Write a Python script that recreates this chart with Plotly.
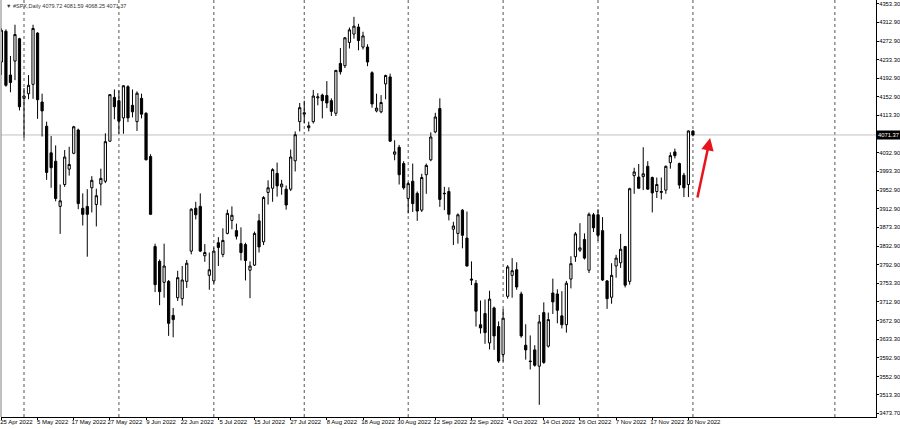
import pandas as pd
import plotly.graph_objects as go

# ---- calendar (US trading days, 25 Apr 2022 .. 1 Dec 2022) ----
holidays = ["2022-05-30", "2022-06-20", "2022-07-04", "2022-09-05", "2022-11-24"]
dates = [d.strftime("%Y-%m-%d") for d in pd.bdate_range("2022-04-25", "2022-12-01")
         if d.strftime("%Y-%m-%d") not in holidays]

# ---- OHLC ----
opens = [4228, 4294, 4200, 4230, 4278, 4150, 4160, 4180, 4290, 4142,
         4090, 4033, 4015, 3918, 3965, 3998, 4032, 4082, 3914, 3918,
         3958, 3922, 3966, 3972, 4058, 4152, 4145, 4108, 4175, 4135,
         4100, 4150, 4118, 4025, 3832, 3800, 3755, 3757, 3684, 3722,
         3720, 3757, 3822, 3914, 3918, 3812, 3770, 3758, 3840, 3815,
         3860, 3888, 3866, 3838, 3836, 3781, 3792, 3887, 3842, 3948,
         3957, 3989, 3960, 3955, 3955, 4016, 4100, 4116, 4087, 4100,
         4151, 4157, 4156, 4145, 4118, 4225, 4220, 4270, 4288, 4303,
         4260, 4260, 4205, 4123, 4121, 4181, 4196, 4030, 4045, 4010,
         3935, 3972, 3946, 3910, 3986, 4018, 4078, 4128, 3945, 3950,
         3869, 3860, 3910, 3850, 3762, 3753, 3664, 3688, 3625, 3700,
         3660, 3600, 3725, 3770, 3782, 3730, 3620, 3586, 3610, 3575,
         3690, 3618, 3732, 3730, 3683, 3664, 3762, 3810, 3824, 3847,
         3781, 3900, 3900, 3866, 3758, 3723, 3790, 3797, 3832, 3757,
         3984, 3981, 3982, 4004, 3980, 3950, 3948, 3953, 4012, 4035,
         4010, 3985, 3965, 4079.72]
highs = [4300, 4298, 4241, 4308, 4280, 4172, 4200, 4308, 4292, 4160,
         4100, 4069, 4049, 3965, 4039, 4046, 4091, 4085, 3946, 3955,
         3983, 3956, 3999, 4075, 4159, 4169, 4167, 4178, 4178, 4169,
         4165, 4160, 4120, 4030, 3838, 3804, 3838, 3760, 3700, 3780,
         3790, 3803, 3914, 3928, 3946, 3837, 3819, 3830, 3852, 3871,
         3911, 3918, 3881, 3873, 3840, 3800, 3864, 3902, 3940, 3974,
         4000, 4012, 3975, 3963, 4040, 4079, 4140, 4145, 4100, 4168,
         4161, 4160, 4187, 4150, 4211, 4258, 4281, 4302, 4325, 4310,
         4293, 4266, 4208, 4160, 4157, 4201, 4203, 4060, 4050, 4015,
         3970, 4010, 3950, 3988, 4010, 4077, 4119, 4150, 3960, 3959,
         3885, 3903, 3912, 3907, 3800, 3760, 3716, 3718, 3737, 3703,
         3671, 3698, 3792, 3807, 3798, 3735, 3665, 3641, 3620, 3685,
         3712, 3690, 3763, 3740, 3736, 3758, 3811, 3863, 3882, 3860,
         3905, 3904, 3912, 3895, 3760, 3796, 3814, 3859, 3833, 3958,
         4001, 4009, 4045, 4015, 3982, 3980, 3980, 4006, 4034, 4042,
         4012, 3990, 4081, 4081.59]
lows = [4200, 4175, 4163, 4189, 4124, 4065, 4148, 4149, 4106, 4068,
        3975, 3958, 3929, 3859, 3960, 3984, 4030, 3912, 3877, 3810,
        3905, 3875, 3920, 3968, 4057, 4105, 4074, 4074, 4099, 4109,
        4080, 4107, 4017, 3900, 3734, 3706, 3722, 3640, 3637, 3715,
        3705, 3743, 3815, 3890, 3820, 3799, 3739, 3752, 3790, 3809,
        3858, 3869, 3847, 3802, 3759, 3721, 3790, 3819, 3835, 3922,
        3928, 3939, 3943, 3911, 3951, 3993, 4079, 4096, 4079, 4096,
        4135, 4107, 4129, 4112, 4112, 4201, 4215, 4257, 4278, 4253,
        4255, 4219, 4130, 4120, 4118, 4148, 4057, 4017, 3965, 3954,
        3903, 3906, 3887, 3906, 3945, 4015, 4075, 3917, 3910, 3888,
        3835, 3838, 3828, 3789, 3749, 3660, 3645, 3623, 3611, 3610,
        3582, 3585, 3720, 3722, 3739, 3636, 3589, 3568, 3574, 3492,
        3580, 3615, 3687, 3667, 3656, 3647, 3742, 3799, 3820, 3804,
        3775, 3863, 3844, 3758, 3698, 3709, 3765, 3786, 3744, 3750,
        3945, 3956, 3953, 3954, 3905, 3936, 3933, 3945, 3999, 4021,
        3956, 3938, 3938, 4068.25]
closes = [4296, 4178, 4184, 4287, 4132, 4155, 4178, 4300, 4147, 4123,
          3991, 4001, 3935, 3930, 4024, 4008, 4089, 3924, 3901, 3901,
          3974, 3941, 3978, 4057, 4158, 4132, 4101, 4177, 4108, 4121,
          4161, 4116, 4018, 3901, 3750, 3735, 3790, 3667, 3675, 3765,
          3760, 3796, 3912, 3900, 3822, 3819, 3782, 3822, 3830, 3845,
          3903, 3899, 3854, 3819, 3802, 3790, 3860, 3831, 3937, 3958,
          3997, 3962, 3966, 3921, 4024, 4072, 4130, 4119, 4091, 4155,
          4153, 4145, 4140, 4122, 4210, 4207, 4280, 4297, 4305, 4274,
          4284, 4228, 4138, 4129, 4141, 4199, 4058, 4035, 3986, 3958,
          3967, 3924, 3908, 3980, 4006, 4067, 4110, 3933, 3946, 3901,
          3876, 3900, 3856, 3790, 3760, 3693, 3657, 3647, 3719, 3640,
          3586, 3678, 3788, 3780, 3745, 3640, 3610, 3585, 3577, 3670,
          3583, 3675, 3713, 3695, 3664, 3753, 3795, 3859, 3829, 3807,
          3901, 3872, 3856, 3760, 3720, 3770, 3807, 3826, 3749, 3956,
          3992, 3957, 3988, 3955, 3947, 3965, 3950, 4004, 4027, 4027,
          3964, 3958, 4080, 4071.37]

# ---- axis labels ----
date_tick_labels = ["25 Apr 2022", "5 May 2022", "17 May 2022", "27 May 2022", "9 Jun 2022",
                    "22 Jun 2022", "5 Jul 2022", "15 Jul 2022", "27 Jul 2022", "8 Aug 2022",
                    "18 Aug 2022", "30 Aug 2022", "12 Sep 2022", "22 Sep 2022", "4 Oct 2022",
                    "14 Oct 2022", "26 Oct 2022", "7 Nov 2022", "17 Nov 2022", "30 Nov 2022"]
price_ticks = [4353.30, 4312.90, 4272.90, 4233.30, 4192.90, 4152.90, 4113.30,
               4032.90, 3993.30, 3952.90, 3912.90, 3873.30, 3832.90, 3792.90, 3753.30,
               3712.90, 3672.90, 3633.30, 3592.90, 3552.90, 3513.30, 3473.70]
symbol = "#SPX,Daily"
last_price = closes[-1]

FONT = "Liberation Sans"

fig = go.Figure()
fig.add_trace(go.Candlestick(
    x=dates, open=opens, high=highs, low=lows, close=closes,
    increasing=dict(line=dict(color="#000000", width=1), fillcolor="#ffffff"),
    decreasing=dict(line=dict(color="#000000", width=1), fillcolor="#000000"),
    whiskerwidth=0, hoverinfo="skip", showlegend=False,
))

# month period separators
shapes = []
sep_idx = [i for i in range(1, len(dates)) if dates[i][5:7] != dates[i - 1][5:7]]
sep_idx.append(184.4)  # separator drawn in the empty right-hand area
for i in sep_idx:
    shapes.append(dict(type="line", xref="x", yref="paper", x0=i, x1=i, y0=0, y1=1,
                       line=dict(color="#555555", width=1, dash="dot"), layer="below"))
# current price line
shapes.append(dict(type="line", xref="paper", yref="y", x0=0, x1=1, y0=last_price, y1=last_price,
                   line=dict(color="#c0c0c0", width=1), layer="below"))
# left border
shapes.append(dict(type="line", xref="paper", yref="paper", x0=0, x1=0, y0=0, y1=1,
                   line=dict(color="#808080", width=1)))

annotations = [
    dict(xref="paper", yref="paper", x=0, y=1, xanchor="left", yanchor="top", xshift=3, yshift=-1,
         text="▼ " + symbol + " " + " ".join(f"{v:.2f}" for v in (opens[-1], highs[-1], lows[-1], closes[-1])),
         showarrow=False, font=dict(family=FONT, size=5.5, color="#333333")),
    dict(xref="paper", yref="y", x=1, y=last_price, xanchor="left", yanchor="middle", xshift=0,
         text=f"{last_price:.2f}", showarrow=False, bgcolor="#000000", borderpad=1,
         font=dict(family=FONT, size=5.8, color="#ffffff")),
    dict(xref="x", yref="y", x=156.8, y=4064.9, ax=-13, ay=61, axref="pixel", ayref="pixel",
         text="", showarrow=True, arrowhead=2, arrowsize=1, arrowwidth=2.5,
         arrowcolor="#e8141c", standoff=0),
]

fig.update_layout(
    width=900, height=429, autosize=False,
    margin=dict(l=1, r=24, t=0, b=12, pad=0, autoexpand=False),
    paper_bgcolor="#ffffff", plot_bgcolor="#ffffff",
    shapes=shapes, annotations=annotations,
    hovermode=False, showlegend=False,
    xaxis=dict(type="category", range=[-0.09, 193.5], showgrid=False, zeroline=False,
               automargin=False, tickangle=0,
               tickvals=[dates[i] for i in range(0, len(dates), 8)], ticktext=date_tick_labels,
               ticks="outside", ticklen=2, tickcolor="#000000", showline=True,
               linecolor="#000000", linewidth=1, ticklabelshift=15, ticklabelstandoff=-3,
               tickfont=dict(family=FONT, size=6, color="#000000"),
               rangeslider=dict(visible=False)),
    yaxis=dict(side="right", range=[3465.9, 4361.1], showgrid=False, zeroline=False,
               automargin=False,
               tickvals=price_ticks, ticktext=[f"{v:.2f}" for v in price_ticks],
               ticks="outside", ticklen=2, tickcolor="#000000", showline=True,
               linecolor="#000000", linewidth=1, ticklabelstandoff=-1,
               tickfont=dict(family=FONT, size=5.8, color="#000000")),
)

fig.write_html("out.html", config={"displayModeBar": False},
               post_script="document.body.style.margin='0';document.body.style.overflow='hidden';")
